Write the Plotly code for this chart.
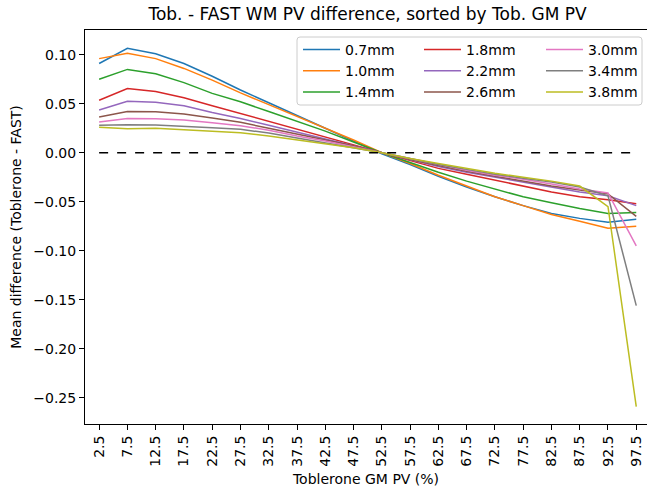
import plotly.graph_objects as go

gm_pv = [2.5, 7.5, 12.5, 17.5, 22.5, 27.5, 32.5, 37.5, 42.5, 47.5,
         52.5, 57.5, 62.5, 67.5, 72.5, 77.5, 82.5, 87.5, 92.5, 97.5]
tick_labels = [str(v) for v in gm_pv]

labels = ["0.7mm", "1.0mm", "1.4mm", "1.8mm", "2.2mm", "2.6mm", "3.0mm", "3.4mm", "3.8mm"]
colors = ["#1f77b4", "#ff7f0e", "#2ca02c", "#d62728", "#9467bd",
          "#8c564b", "#e377c2", "#7f7f7f", "#bcbd22"]

d_07 = [0.091, 0.1065, 0.101, 0.091, 0.078, 0.064, 0.051, 0.038, 0.025, 0.012,
        -0.001, -0.012, -0.024, -0.035, -0.045, -0.054, -0.062, -0.067, -0.071, -0.068]
d_10 = [0.096, 0.1015, 0.096, 0.086, 0.074, 0.061, 0.049, 0.037, 0.025, 0.013,
        0.000, -0.011, -0.023, -0.034, -0.045, -0.054, -0.063, -0.070, -0.077, -0.075]
d_14 = [0.075, 0.085, 0.0805, 0.0715, 0.0605, 0.052, 0.042, 0.032, 0.022, 0.011,
        0.000, -0.010, -0.020, -0.029, -0.037, -0.045, -0.051, -0.057, -0.062, -0.061]
d_18 = [0.0535, 0.0655, 0.0625, 0.056, 0.048, 0.040, 0.032, 0.024, 0.016, 0.008,
        0.000, -0.008, -0.016, -0.022, -0.028, -0.034, -0.040, -0.045, -0.048, -0.052]
d_22 = [0.0435, 0.0525, 0.0515, 0.0478, 0.041, 0.035, 0.028, 0.021, 0.014, 0.007,
        0.000, -0.007, -0.014, -0.020, -0.025, -0.030, -0.035, -0.040, -0.044, -0.054]
d_26 = [0.0365, 0.042, 0.0418, 0.0395, 0.0355, 0.031, 0.025, 0.019, 0.013, 0.007,
        0.000, -0.007, -0.013, -0.019, -0.024, -0.029, -0.034, -0.038, -0.042, -0.065]
d_30 = [0.0313, 0.035, 0.0347, 0.0334, 0.0306, 0.0276, 0.023, 0.017, 0.012, 0.006,
        0.000, -0.006, -0.012, -0.018, -0.023, -0.027, -0.032, -0.037, -0.041, -0.095]
d_34 = [0.028, 0.0286, 0.0283, 0.0272, 0.0255, 0.0239, 0.020, 0.015, 0.010, 0.005,
        0.000, -0.006, -0.012, -0.017, -0.022, -0.026, -0.030, -0.035, -0.044, -0.156]
d_38 = [0.026, 0.0245, 0.0249, 0.0235, 0.0221, 0.0204, 0.017, 0.013, 0.009, 0.005,
        0.000, -0.006, -0.011, -0.016, -0.021, -0.025, -0.029, -0.034, -0.055, -0.259]

series = [d_07, d_10, d_14, d_18, d_22, d_26, d_30, d_34, d_38]
zero_line = [0.0] * len(gm_pv)

W, H = 647, 487
ML, MR, MT, MB = 85, 0, 30, 63
PW, PH = W - ML - MR, H - MT - MB


def px_x(p):
    return (p - ML) / PW


def px_y(p):
    return (H - MB - p) / PH


legend_ids = ["legend", "legend", "legend", "legend2", "legend2", "legend2",
              "legend3", "legend3", "legend3"]

fig = go.Figure()
for i, (lab, col, ys, lg) in enumerate(zip(labels, colors, series, legend_ids)):
    fig.add_trace(go.Scatter(x=gm_pv, y=ys, mode="lines", name=lab,
                             line=dict(color=col, width=1.5), legend=lg,
                             legendgroup=f"g{i}"))

fig.add_trace(go.Scatter(x=gm_pv, y=zero_line, mode="lines", showlegend=False,
                         line=dict(color="black", width=1.5, dash="dash")))

font = "DejaVu Sans"

# legend frame (rounded rectangle) in pixel coords
bx0, bx1, by0, by1, r = 297, 642, 37, 105, 3
path = (f"M {px_x(bx0 + r)},{px_y(by0)} L {px_x(bx1 - r)},{px_y(by0)} "
        f"Q {px_x(bx1)},{px_y(by0)} {px_x(bx1)},{px_y(by0 + r)} "
        f"L {px_x(bx1)},{px_y(by1 - r)} Q {px_x(bx1)},{px_y(by1)} {px_x(bx1 - r)},{px_y(by1)} "
        f"L {px_x(bx0 + r)},{px_y(by1)} Q {px_x(bx0)},{px_y(by1)} {px_x(bx0)},{px_y(by1 - r)} "
        f"L {px_x(bx0)},{px_y(by0 + r)} Q {px_x(bx0)},{px_y(by0)} {px_x(bx0 + r)},{px_y(by0)} Z")

leg_common = dict(orientation="v", yanchor="top", xanchor="left",
                  bgcolor="rgba(0,0,0,0)", borderwidth=0, itemwidth=37,
                  font=dict(size=14, family=font), tracegroupgap=0)

fig.update_layout(
    width=W, height=H,
    margin=dict(l=ML, r=MR, t=MT, b=MB),
    plot_bgcolor="white", paper_bgcolor="white",
    font=dict(family=font, size=14, color="black"),
    title=dict(text="Tob. - FAST WM PV difference, sorted by Tob. GM PV",
               x=(ML + 650) / 2 / W, xanchor="center", y=1 - 14 / H, yanchor="middle",
               font=dict(size=17, family=font)),
    legend=dict(x=px_x(298), y=px_y(34), **leg_common),
    legend2=dict(x=px_x(419), y=px_y(34), **leg_common),
    legend3=dict(x=px_x(541), y=px_y(34), **leg_common),
    shapes=[dict(type="path", xref="paper", yref="paper", path=path,
                 line=dict(color="#cccccc", width=1), fillcolor="rgba(255,255,255,0.8)",
                 layer="above")],
)
fig.update_xaxes(range=[0, 99.4], tickvals=gm_pv, ticktext=tick_labels, tickangle=-90,
                 showgrid=False, zeroline=False, showline=True, linecolor="black",
                 linewidth=1, mirror=True, ticks="outside", ticklen=5, tickcolor="black",
                 title=dict(text="Toblerone GM PV (%)", standoff=8, font=dict(size=14)),
                 tickfont=dict(size=14))
fig.update_yaxes(range=[-0.2768, 0.1252], tickvals=[0.10, 0.05, 0.0, -0.05, -0.10, -0.15, -0.20, -0.25],
                 tickformat=".2f",
                 showgrid=False, zeroline=False, showline=True, linecolor="black",
                 linewidth=1, mirror=True, ticks="outside", ticklen=5, tickcolor="black",
                 title=dict(text="Mean difference (Toblerone - FAST)", standoff=8, font=dict(size=14)),
                 tickfont=dict(size=14))

fig.write_html("out.html")
